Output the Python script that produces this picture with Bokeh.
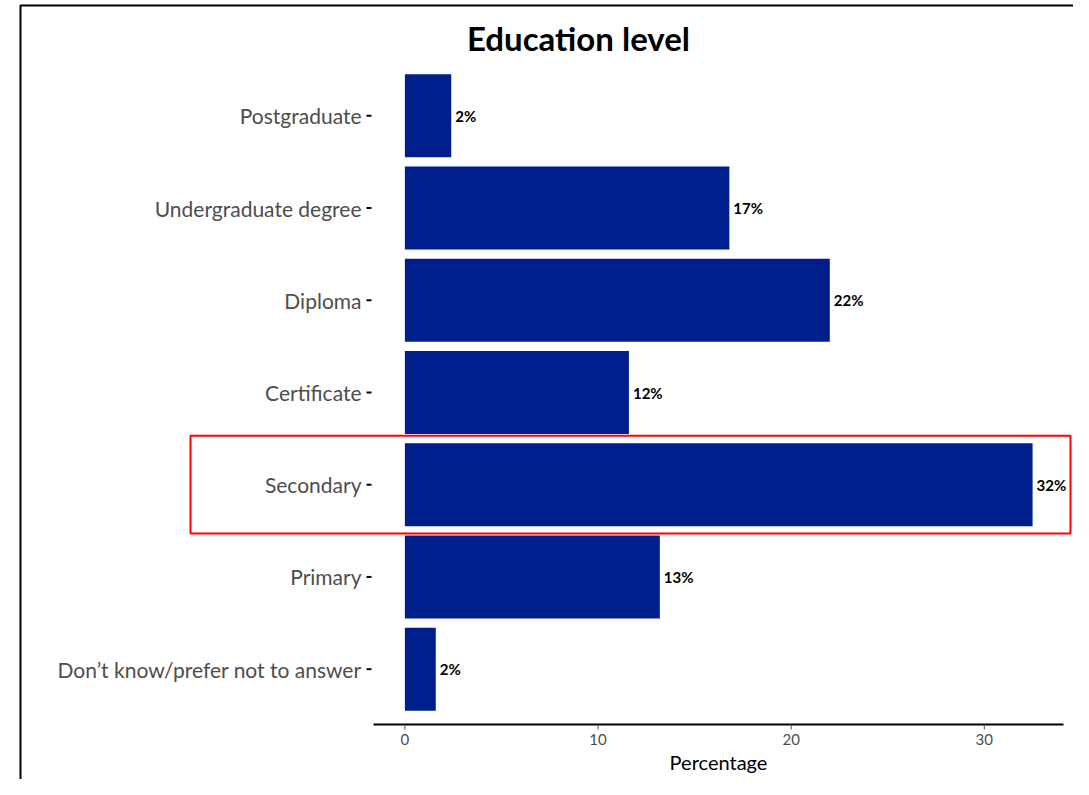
from bokeh.plotting import figure
from bokeh.models import Range1d, ColumnDataSource
from bokeh.core.properties import value
from bokeh.embed import file_html
from bokeh.resources import INLINE

# ---- data ----
categories = ["Postgraduate", "Undergraduate degree", "Diploma", "Certificate",
              "Secondary", "Primary", "Don\u2019t know/prefer not to answer"]
percentages = [2.4, 16.8, 22.0, 11.6, 32.5, 13.2, 1.6]
value_labels = ["2%", "17%", "22%", "12%", "32%", "13%", "2%"]
x_ticks = [0, 10, 20, 30]
x_tick_labels = ["0", "10", "20", "30"]
highlight = "Secondary"
title_text = "Education level"
x_label = "Percentage"

# ---- layout (pixels on the canvas) ----
W, H = 1073, 779
PL, PR, PT, PB = 373, 1063, 60, 724        # plot panel edges
n = len(categories)
ys = [n - 1 - i for i in range(n)]
xlo, xhi = -1.625, 34.1                     # data extent of the panel
ylo, yhi = -0.6, n - 1 + 0.6
ppx = (PR - PL) / (xhi - xlo)
ppy = (PB - PT) / (yhi - ylo)

def dx(px):  # canvas px -> data x
    return xlo + (px - PL) / ppx

def dy(py):  # canvas px -> data y
    return yhi - (py - PT) / ppy

BAR = "#001F8C"
FONT = "Lato"

p = figure(width=W, height=H, output_backend="svg", toolbar_location=None,
           x_range=Range1d(dx(0), dx(W)), y_range=Range1d(dy(H), dy(0)),
           min_border=0, min_border_left=0, min_border_right=0,
           min_border_top=0, min_border_bottom=0)
p.axis.visible = False
p.grid.visible = False
p.outline_line_color = None
p.background_fill_color = "white"
p.border_fill_color = "white"

src = ColumnDataSource(dict(y=ys, pct=percentages, lab=value_labels, cat=categories,
                            tl=[xlo - 7 / ppx] * n, tr=[xlo - 2 / ppx] * n,
                            lx=[xlo] * n))

# bars
p.hbar(y="y", left=0, right="pct", height=0.9, fill_color=BAR, line_color=None, source=src)

# value labels
p.text(x="pct", y="y", text="lab", source=src, x_offset=4,
       text_baseline="middle", text_align="left",
       text_font=value(FONT), text_font_style="bold",
       text_font_size="15px", text_color="black")

# y axis: ticks + category labels
p.segment(x0="tl", y0="y", x1="tr", y1="y", line_color="black", line_width=2, source=src)
p.text(x="lx", y="y", text="cat", source=src, x_offset=-12,
       text_baseline="middle", text_align="right",
       text_font=value(FONT), text_font_size="21px", text_color="#4d4d4d")

# x axis: line, ticks, labels, title
p.segment(x0=[xlo], y0=[ylo], x1=[xhi], y1=[ylo], line_color="black", line_width=2)
p.segment(x0=x_ticks, y0=[ylo] * len(x_ticks), x1=x_ticks,
          y1=[dy(PB + 5)] * len(x_ticks), line_color="#4d4d4d", line_width=1)
p.text(x=x_ticks, y=[dy(PB + 15)] * len(x_ticks), text=x_tick_labels,
       text_baseline="middle", text_align="center",
       text_font=value(FONT), text_font_size="15px", text_color="#4d4d4d")
p.text(x=[(xlo + xhi) / 2], y=[dy(PB + 37)], text=[x_label],
       text_baseline="middle", text_align="center",
       text_font=value(FONT), text_font_size="20px", text_color="black")

# chart title
p.text(x=[dx(578)], y=[dy(37)], text=[title_text],
       text_baseline="middle", text_align="center",
       text_font=value(FONT), text_font_style="bold",
       text_font_size="33px", text_color="black")

# highlight box around the Secondary row
hy = ys[categories.index(highlight)]
p.quad(left=[dx(190)], right=[dx(1070)], bottom=[hy - 0.53], top=[hy + 0.53],
       fill_color=None, line_color="red", line_width=2)

# outer border
p.quad(left=[dx(20)], right=[dx(W + 20)], bottom=[dy(H + 20)], top=[dy(5)],
       fill_color=None, line_color="black", line_width=2)

open("out.html", "w").write(file_html(p, INLINE))
